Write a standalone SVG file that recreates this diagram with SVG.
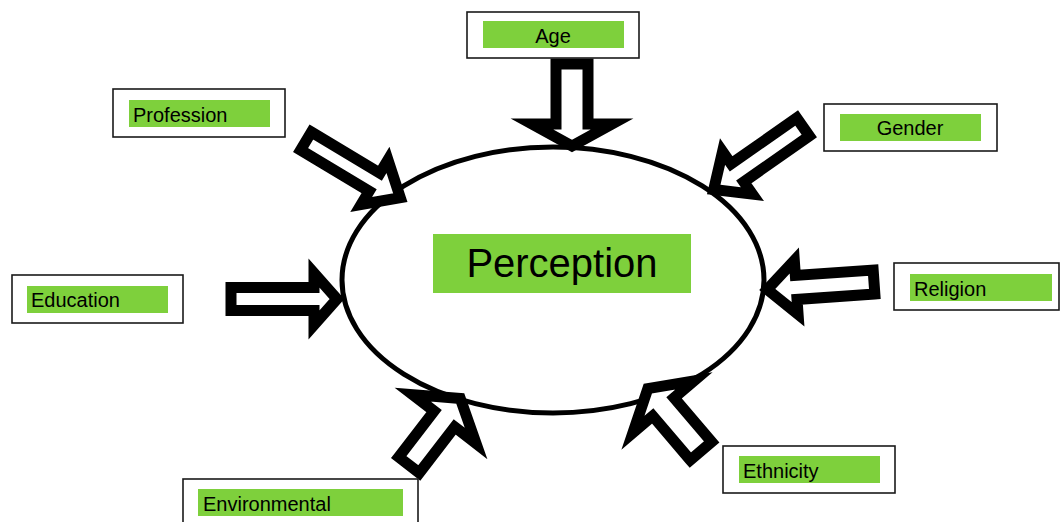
<svg xmlns="http://www.w3.org/2000/svg" width="1060" height="522" viewBox="0 0 1060 522">
  <style>
    .box { fill: #ffffff; stroke: #1a1a1a; stroke-width: 1.6; }
    .tag { fill: #7ed03c; }
    .label { font-family: "Liberation Sans", Arial, sans-serif; font-size: 20px; fill: #000000; }
    .centre { font-family: "Liberation Sans", Arial, sans-serif; font-size: 40px; fill: #000000; }
    .hub { fill: #ffffff; stroke: #000000; stroke-width: 5; }
    .arrow { fill: #ffffff; stroke: #000000; stroke-width: 11; stroke-linejoin: miter; stroke-miterlimit: 10; }
  </style>

  <!-- central ellipse -->
  <g id="perception">
    <ellipse class="hub" cx="553" cy="280" rx="211" ry="133"/>
    <rect class="tag" x="433" y="234" width="258" height="59"/>
    <text class="centre" x="562" y="277" text-anchor="middle">Perception</text>
  </g>

  <!-- block arrows pointing into the ellipse; local frame: tail at origin, pointing +x -->
  <g id="connectors">
    <path class="arrow" transform="translate(572,64) rotate(90)" d="M0,-16 H60 V-40 L82,0 L60,40 V16 H0 Z"/>
    <path class="arrow" transform="translate(306,141) rotate(31)" d="M0,-10.5 H80 V-26 L110,0 L80,26 V10.5 H0 Z"/>
    <path class="arrow" transform="translate(803,127) rotate(145)" d="M0,-11 H80 V-26 L109,0 L80,26 V11 H0 Z"/>
    <path class="arrow" transform="translate(231,299)" d="M0,-11.5 H83 V-26 L106,0 L83,26 V11.5 H0 Z"/>
    <path class="arrow" transform="translate(874,282) rotate(176)" d="M0,-12 H78 V-27 L107,0 L78,27 V12 H0 Z"/>
    <path class="arrow" transform="translate(701,451) rotate(229.6)" d="M0,-14 H58 V-40 L82,0 L58,40 V14 H0 Z"/>
    <path class="arrow" transform="translate(409,465) rotate(-52.4)" d="M0,-13 H58 V-40 L84,0 L58,40 V13 H0 Z"/>
  </g>

  <g id="age">
    <rect class="box" x="467" y="12" width="172" height="46"/>
    <rect class="tag" x="483" y="21" width="141" height="27"/>
    <text class="label" x="553" y="43" text-anchor="middle">Age</text>
  </g>

  <g id="profession">
    <rect class="box" x="113" y="89" width="172" height="48"/>
    <rect class="tag" x="129" y="100" width="141" height="27"/>
    <text class="label" x="133" y="122">Profession</text>
  </g>

  <g id="gender">
    <rect class="box" x="824" y="104" width="173" height="47"/>
    <rect class="tag" x="840" y="114" width="141" height="27"/>
    <text class="label" x="910" y="135" text-anchor="middle">Gender</text>
  </g>

  <g id="education">
    <rect class="box" x="12" y="275" width="171" height="48"/>
    <rect class="tag" x="27" y="286" width="141" height="27"/>
    <text class="label" x="31" y="307">Education</text>
  </g>

  <g id="religion">
    <rect class="box" x="894" y="263" width="165" height="47"/>
    <rect class="tag" x="910" y="274" width="142" height="27"/>
    <text class="label" x="914" y="296">Religion</text>
  </g>

  <g id="ethnicity">
    <rect class="box" x="723" y="446" width="172" height="47"/>
    <rect class="tag" x="739" y="456" width="141" height="27"/>
    <text class="label" x="743" y="478">Ethnicity</text>
  </g>

  <g id="environmental">
    <rect class="box" x="183" y="479" width="235" height="50"/>
    <rect class="tag" x="198" y="489" width="205" height="27"/>
    <text class="label" x="203" y="511">Environmental</text>
  </g>
</svg>
